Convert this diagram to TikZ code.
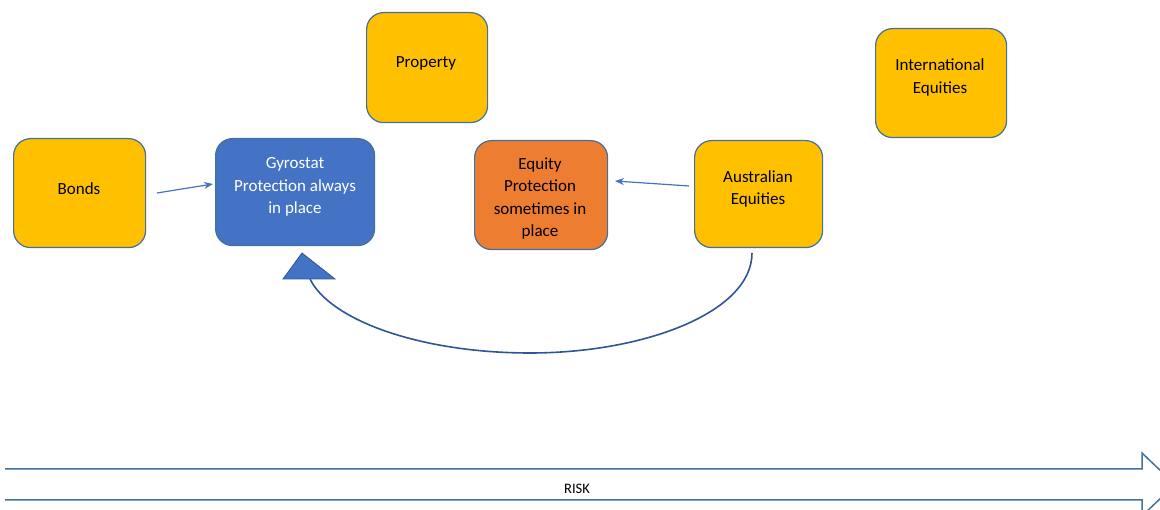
\documentclass[tikz,border=0pt]{standalone}
\usepackage{fontspec}
\setmainfont{Carlito}
\usetikzlibrary{arrows.meta}
\definecolor{gold}{HTML}{FFC000}
\definecolor{oblue}{HTML}{4472C4}
\definecolor{oorange}{HTML}{ED7D31}
\definecolor{edge}{HTML}{41719C}
\definecolor{dblue}{HTML}{2F5597}
\tikzset{
  box/.style={draw=edge, line width=1.2pt, rounded corners=17pt, inner sep=0pt, anchor=north west},
  lbl/.style={align=center, font=\fontsize{17}{22.5}\selectfont, inner sep=0pt},
  conn/.style={draw=oblue, line width=1.2pt, -{Stealth[length=9pt,width=7pt]}},
}
\begin{document}
\begin{tikzpicture}[x=1pt,y=-1pt]
\useasboundingbox (0,0) rectangle (1160,510);
\clip (0,0) rectangle (1160,510);
% boxes
\node[box, fill=gold, minimum width=132pt, minimum height=109pt] (bonds) at (13,138) {};
\node[box, fill=oblue, minimum width=159pt, minimum height=107pt] (gyro) at (215,138) {};
\node[box, fill=gold, minimum width=121pt, minimum height=110pt] (prop) at (366,12) {};
\node[box, fill=gold, minimum width=131pt, minimum height=109pt] (intl) at (875,28) {};
\node[box, fill=oorange, minimum width=133pt, minimum height=109pt] (eqp) at (474,140) {};
\node[box, fill=gold, minimum width=128pt, minimum height=107pt] (aus) at (694,140) {};
% texts
\node[lbl] (tbonds) at (79,189) {Bonds};
\node[lbl, text=white] (tgyro) at (295,187) {Gyrostat\\Protection always\\in place};
\node[lbl] (tprop) at (426,63) {Property};
\node[lbl] (tintl) at (940,77.5) {International\\Equities};
\node[lbl] (teqp) at (540,198.5) {Equity\\Protection\\sometimes in\\place};
\node[lbl] (taus) at (758,189) {Australian\\Equities};
% straight connectors
\coordinate (b1) at (157,193);
\coordinate (b2) at (213,184);
\draw[conn] (b1) -- (b2);
\coordinate (a1) at (689,186);
\coordinate (a2) at (615,181);
\draw[conn] (a1) -- (a2);
% curved connector with triangle head
\coordinate (cs) at (752,253);
\coordinate (cm) at (530,353);
\coordinate (ce) at (310,279);
\draw[dblue, line width=1.6pt] (cs) .. controls (752,312) and (645,353) .. (cm)
  .. controls (420,353) and (330,320) .. (ce);
\coordinate (tapex) at (302,253);
\coordinate (tl) at (283,279);
\coordinate (tr) at (335,279);
\filldraw[fill=oblue, draw=dblue, line width=0.8pt, line join=miter] (tapex) -- (tr) -- (tl) -- cycle;
% risk block arrow
\coordinate (r0) at (5,469);
\coordinate (r1) at (1142,469);
\coordinate (r2) at (1142,453);
\coordinate (r3) at (1175,484.5);
\coordinate (r4) at (1142,516);
\coordinate (r5) at (1142,500);
\coordinate (r6) at (5,500);
\draw[draw=edge, line width=1.5pt, fill=white] (r0) -- (r1) -- (r2) -- (r3) -- (r4) -- (r5) -- (r6);
\node[font=\fontsize{14.5}{16}\selectfont, inner sep=0pt] (risk) at (577,489) {RISK};
\end{tikzpicture}
\end{document}
